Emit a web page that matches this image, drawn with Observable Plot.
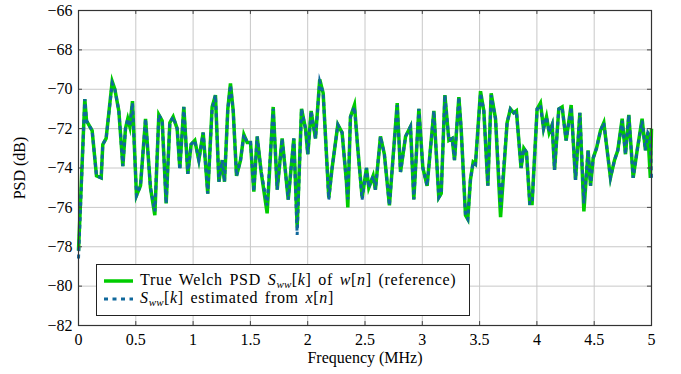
<!DOCTYPE html>
<html>
<head>
<meta charset="utf-8">
<script src="https://cdn.jsdelivr.net/npm/d3@7"></script>
<script src="https://cdn.jsdelivr.net/npm/@observablehq/plot@0.6"></script>
<style>
  html, body { margin: 0; padding: 0; background: #fff; }
  #wrap { position: relative; width: 681px; height: 374px; font-family: "Liberation Serif", serif; }
  #chart svg, #chart svg text { font-family: "Liberation Serif", serif !important; font-size: 16px !important; fill: #000; }
  #legend { position: absolute; left: 96px; top: 264px; width: 372px; height: 50px; border: 1px solid #222; background: #fff; font-size: 16px; color: #000; letter-spacing: 0.7px; word-spacing: 2px; }
  .row { position: absolute; left: 6px; height: 18px; line-height: 18px; white-space: nowrap; }
  .row svg { vertical-align: middle; margin-right: 6px; }
  .row sub { font-size: 11px; font-style: italic; vertical-align: -3px; line-height: 0; letter-spacing: 0.3px; }
</style>
</head>
<body>
<div id="wrap">
  <div id="chart"></div>
  <div id="legend">
    <div class="row" style="top:6px"><svg width="31" height="10"><line x1="1" y1="5" x2="30" y2="5" stroke="#00cc00" stroke-width="3.5"/></svg>True Welch PSD <i>S</i><sub>ww</sub>[<i>k</i>] of <i>w</i>[<i>n</i>] (reference)</div>
    <div class="row" style="top:24px"><svg width="31" height="10"><line x1="1" y1="5" x2="30" y2="5" stroke="#10689c" stroke-width="3" stroke-dasharray="4,4.5"/></svg><i>S</i><sub>ww</sub>[<i>k</i>] estimated from <i>x</i>[<i>n</i>]</div>
  </div>
</div>
<script>
const freq = [0.000,0.055,0.070,0.119,0.157,0.198,0.212,0.241,0.294,0.317,0.352,0.387,0.410,0.430,0.448,0.471,0.506,0.541,0.585,0.628,0.666,0.701,0.730,0.765,0.797,0.826,0.861,0.884,0.919,0.954,0.983,1.015,1.050,1.088,1.128,1.166,1.195,1.225,1.254,1.274,1.303,1.326,1.350,1.379,1.414,1.443,1.472,1.501,1.530,1.559,1.594,1.646,1.699,1.734,1.777,1.830,1.879,1.908,1.946,1.981,2.001,2.030,2.068,2.105,2.135,2.184,2.213,2.263,2.300,2.338,2.350,2.373,2.408,2.437,2.475,2.513,2.533,2.571,2.591,2.635,2.669,2.713,2.781,2.810,2.854,2.897,2.926,2.970,3.005,3.042,3.101,3.144,3.165,3.197,3.232,3.261,3.281,3.319,3.339,3.377,3.397,3.420,3.444,3.464,3.508,3.537,3.572,3.601,3.639,3.683,3.740,3.769,3.798,3.821,3.862,3.886,3.909,3.938,3.958,4.002,4.031,4.058,4.084,4.107,4.133,4.154,4.191,4.220,4.255,4.299,4.337,4.375,4.410,4.447,4.468,4.491,4.520,4.555,4.584,4.642,4.677,4.706,4.744,4.773,4.802,4.840,4.875,4.918,4.947,4.968,4.990,5.000];

const psdTrue = [-78.2,-70.5,-71.6,-72.1,-74.4,-74.5,-72.8,-72.5,-69.6,-70.0,-71.1,-73.9,-72.0,-71.5,-71.9,-70.6,-75.4,-74.9,-71.5,-75.0,-76.4,-71.3,-71.6,-75.8,-71.7,-71.4,-72.0,-74.0,-70.9,-74.3,-72.8,-72.6,-73.6,-72.2,-75.3,-70.9,-70.3,-74.7,-73.6,-74.7,-71.0,-69.7,-71.1,-74.4,-73.6,-72.3,-72.7,-72.7,-75.2,-72.4,-74.2,-76.3,-70.9,-75.1,-72.5,-75.6,-72.5,-77.0,-71.0,-72.0,-73.3,-71.1,-72.5,-69.5,-70.2,-75.5,-74.0,-71.8,-72.2,-74.7,-76.0,-71.4,-70.8,-73.0,-75.5,-74.0,-75.0,-74.4,-75.1,-72.4,-73.3,-75.9,-70.7,-74.2,-72.4,-71.9,-75.6,-71.0,-74.0,-74.9,-71.1,-75.5,-75.3,-70.3,-72.6,-72.5,-73.6,-70.4,-72.0,-76.4,-76.6,-74.6,-73.7,-73.8,-70.1,-71.1,-74.9,-70.2,-71.5,-76.5,-71.7,-71.0,-71.2,-71.1,-74.0,-73.0,-73.2,-75.8,-75.8,-71.0,-70.7,-72.0,-71.4,-72.2,-71.8,-74.1,-71.0,-70.9,-72.6,-70.8,-74.6,-71.2,-76.2,-73.1,-74.9,-73.5,-73.0,-72.1,-71.7,-74.5,-73.6,-73.1,-71.5,-73.3,-71.3,-74.5,-73.1,-71.5,-73.1,-72.2,-74.5,-72.0];

const psdEst = [-78.6,-70.5,-71.6,-72.1,-74.4,-74.5,-72.8,-72.5,-69.7,-70.0,-71.1,-73.9,-72.0,-71.5,-71.9,-70.7,-75.4,-74.9,-71.5,-75.0,-76.2,-71.3,-71.6,-75.8,-71.7,-71.4,-72.0,-74.1,-70.9,-74.3,-72.8,-72.6,-73.6,-72.2,-75.3,-71.0,-70.3,-74.7,-73.6,-74.7,-71.0,-69.8,-71.1,-74.4,-73.6,-72.3,-72.7,-72.7,-75.2,-72.4,-74.2,-75.9,-71.0,-75.1,-72.5,-75.6,-72.5,-77.4,-71.0,-72.0,-73.3,-71.1,-72.5,-69.6,-70.2,-75.6,-74.0,-71.8,-72.2,-74.7,-75.6,-71.4,-70.9,-73.0,-75.6,-74.0,-75.0,-74.4,-75.1,-72.4,-73.3,-75.9,-70.8,-74.2,-72.4,-71.9,-75.6,-71.0,-74.0,-74.9,-71.1,-75.5,-75.3,-70.3,-72.6,-72.5,-73.6,-70.4,-72.0,-76.4,-76.6,-74.6,-73.7,-73.8,-70.2,-71.1,-74.9,-70.3,-71.5,-76.0,-71.7,-71.0,-71.2,-71.1,-74.0,-73.0,-73.2,-75.8,-75.8,-71.0,-70.8,-72.0,-71.4,-72.2,-71.8,-74.1,-71.0,-70.9,-72.6,-70.9,-74.6,-71.2,-75.8,-73.1,-74.9,-73.5,-73.0,-72.1,-71.7,-74.5,-73.6,-73.1,-71.6,-73.3,-71.3,-74.5,-73.1,-71.6,-73.1,-72.2,-72.4,-74.6];

const xTicks = [0, 0.5, 1, 1.5, 2, 2.5, 3, 3.5, 4, 4.5, 5];
const xTickLabels = ["0", "0.5", "1", "1.5", "2", "2.5", "3", "3.5", "4", "4.5", "5"];
const yTicks = [-82, -80, -78, -76, -74, -72, -70, -68, -66];
const xLabel = "Frequency (MHz)";
const yLabel = "PSD (dB)";

const trueData = freq.map((f, i) => ({f, v: psdTrue[i]}));
const estData = freq.map((f, i) => ({f, v: psdEst[i]}));

const fmtY = d => d < 0 ? "\u2212" + Math.abs(d) : String(d);
const fmtX = d => xTickLabels[xTicks.indexOf(d)];

const chart = Plot.plot({
  width: 681,
  height: 374,
  marginLeft: 78,
  marginRight: 30,
  marginTop: 10,
  marginBottom: 49,
  style: {fontFamily: "'Liberation Serif', serif", fontSize: "16px", color: "#000", background: "#fff"},
  x: {domain: [0, 5]},
  y: {domain: [-82, -66]},
  marks: [
    Plot.gridX(xTicks, {stroke: "#c8c8c8", strokeOpacity: 1, strokeWidth: 1}),
    Plot.gridY(yTicks, {stroke: "#c8c8c8", strokeOpacity: 1, strokeWidth: 1}),
    Plot.line(trueData, {x: "f", y: "v", stroke: "#00cc00", strokeWidth: 3.5, strokeLinejoin: "miter", strokeLinecap: "butt", strokeMiterlimit: 6}),
    Plot.line(estData, {x: "f", y: "v", stroke: "#10689c", strokeWidth: 3, strokeDasharray: "4,3.5", strokeLinejoin: "miter", strokeLinecap: "butt", strokeMiterlimit: 6}),
    Plot.ruleX(xTicks, {x: d => d, y1: -82, y2: -81.8, stroke: "#444"}),
    Plot.ruleX(xTicks, {x: d => d, y1: -66, y2: -66.2, stroke: "#444"}),
    Plot.ruleY(yTicks, {y: d => d, x1: 0, x2: 0.035, stroke: "#444"}),
    Plot.ruleY(yTicks, {y: d => d, x1: 4.965, x2: 5, stroke: "#444"}),
    Plot.frame({stroke: "#333", strokeWidth: 1.2}),
    Plot.axisX(xTicks, {tickSize: 0, tickPadding: 8, tickFormat: fmtX, label: xLabel, labelAnchor: "center", labelOffset: 37, labelArrow: "none"}),
    Plot.axisY(yTicks, {tickSize: 0, tickPadding: 6, tickFormat: fmtY, label: yLabel, labelAnchor: "center", labelOffset: 65, labelArrow: "none"})
  ]
});
document.getElementById("chart").appendChild(chart);
</script>
</body>
</html>
